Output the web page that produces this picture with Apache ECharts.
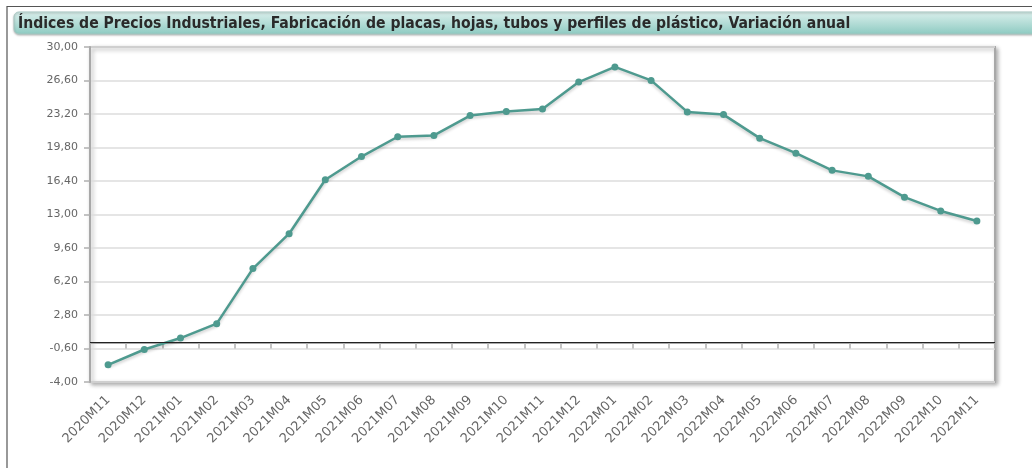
<!DOCTYPE html>
<html>
<head>
<meta charset="utf-8">
<script src="https://cdn.jsdelivr.net/npm/echarts@6/dist/echarts.min.js"></script>
<style>
html,body{margin:0;padding:0;background:#fff;}
#chart{width:1032px;height:468px;}
</style>
</head>
<body>
<div id="chart"></div>
<script>
const titleText = 'Índices de Precios Industriales, Fabricación de placas, hojas, tubos y perfiles de plástico, Variación anual';
const categories = ['2020M11','2020M12','2021M01','2021M02','2021M03','2021M04','2021M05','2021M06','2021M07','2021M08','2021M09','2021M10','2021M11','2021M12','2022M01','2022M02','2022M03','2022M04','2022M05','2022M06','2022M07','2022M08','2022M09','2022M10','2022M11'];
const values = [-2.26,-0.70,0.46,1.92,7.51,11.05,16.53,18.88,20.89,21.03,23.04,23.45,23.71,26.44,27.98,26.61,23.41,23.14,20.75,19.22,17.48,16.87,14.76,13.36,12.34];
const yTicks = [-4,-0.6,2.8,6.2,9.6,13,16.4,19.8,23.2,26.6,30];
const referenceLine = 0;

const chart = echarts.init(document.getElementById('chart'), null, {renderer:'canvas'});
const fmt = v => v.toFixed(2).replace('.', ',');
chart.setOption({
  animation:false,
  backgroundColor:'#fff',
  graphic:[
    {type:'polyline', shape:{points:[[7,470],[7,6.5],[1040,6.5]]}, style:{stroke:'#555',lineWidth:1.2,fill:null}, z:0},
    {type:'rect', shape:{x:14,y:12,width:1030,height:22,r:[5,0,0,5]},
     style:{fill:new echarts.graphic.LinearGradient(0,0,0,1,[{offset:0,color:'#dcf0ed'},{offset:1,color:'#8dcac1'}]), stroke:'#a9c9c4', lineWidth:1,
       shadowColor:'rgba(0,0,0,0.25)', shadowBlur:2, shadowOffsetY:1}, z:1},
    {type:'text', x:18, y:23.5, style:{text:titleText, fill:'#2a2a2a', font:'bold 15.6px "DejaVu Sans Condensed", "DejaVu Sans", sans-serif', verticalAlign:'middle'}, z:2}
  ],
  grid:{left:90,right:37,top:47,bottom:86,show:true,backgroundColor:'#fff',borderColor:'#a8a8a8',borderWidth:2,
        shadowColor:'rgba(0,0,0,0.3)',shadowBlur:4,shadowOffsetX:2,shadowOffsetY:2},
  xAxis:{type:'category',data:categories,boundaryGap:true,
    axisLine:{show:true,lineStyle:{color:'#a8a8a8',width:2}},
    axisTick:{show:true,alignWithLabel:false,length:6,lineStyle:{color:'#b0b0b0',width:1.5}},
    axisLabel:{rotate:45,interval:0,color:'#666',fontSize:13,fontFamily:'"DejaVu Sans", sans-serif',margin:16},
    splitLine:{show:false}},
  yAxis:{type:'value',min:-4,max:30,
    axisLine:{show:true,lineStyle:{color:'#a8a8a8',width:2}},
    axisTick:{show:true,length:6,customValues:yTicks,lineStyle:{color:'#b0b0b0',width:1.5}},
    axisLabel:{customValues:yTicks,formatter:fmt,color:'#666',fontSize:11,fontFamily:'"DejaVu Sans", sans-serif',margin:12},
    splitLine:{show:true,lineStyle:{color:'#dcdcdc',width:1.5}}},
  series:[{
    type:'line',data:values,symbol:'circle',symbolSize:7,
    itemStyle:{color:'#4e9a8f'},
    lineStyle:{color:'#4e9a8f',width:2.5,shadowColor:'rgba(0,0,0,0.2)',shadowBlur:3,shadowOffsetY:2},
    markLine:{silent:true,symbol:'none',label:{show:false},lineStyle:{color:'#222',width:1.2,type:'solid'},
      data:[{yAxis:referenceLine}]},
    z:3
  }]
});
</script>
</body>
</html>
